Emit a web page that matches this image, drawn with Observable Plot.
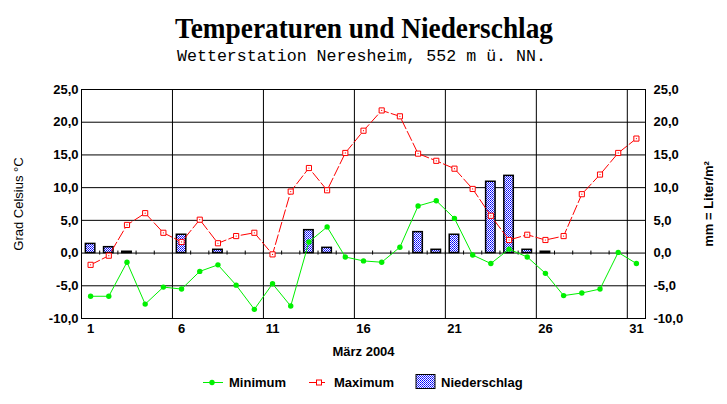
<!DOCTYPE html>
<html>
<head>
<meta charset="utf-8">
<script src="https://cdn.jsdelivr.net/npm/d3@7"></script>
<script src="https://cdn.jsdelivr.net/npm/@observablehq/plot@0.6"></script>
<style>
  html, body { margin: 0; padding: 0; background: white; }
  #wrap { position: relative; width: 727px; height: 404px; background: white; overflow: hidden; }
  #title, #legend { position: absolute; left: 0; }
  #title { top: 0; }
  #chart { position: absolute; left: 0; top: 72px; }
  #legend { top: 370px; }
</style>
</head>
<body>
<div id="wrap">
  <svg id="title" width="727" height="72"></svg>
  <div id="chart"></div>
  <svg id="legend" width="727" height="34">
    <defs>
      <pattern id="dots" patternUnits="userSpaceOnUse" x="0" y="0" width="2" height="2">
        <rect x="0" y="0" width="2" height="2" fill="white" shape-rendering="crispEdges"/>
        <rect x="0" y="0" width="1" height="1" fill="#0000ff" shape-rendering="crispEdges"/>
        <rect x="1" y="1" width="1" height="1" fill="#3030ff" shape-rendering="crispEdges"/>
      </pattern>
    </defs>
  </svg>
</div>
<script>
// ---- data ----
const titleText = "Temperaturen und Niederschlag";
const subtitleText = "Wetterstation Neresheim, 552 m ü. NN.";
const xLabel = "März 2004";
const yLabelLeft = "Grad Celsius °C";
const yLabelRight = "mm = Liter/m²";
const seriesNames = ["Minimum", "Maximum", "Niederschlag"];

const days = [1,2,3,4,5,6,7,8,9,10,11,12,13,14,15,16,17,18,19,20,21,22,23,24,25,26,27,28,29,30,31];
const minTemp = [-6.6,-6.6,-1.4,-7.8,-5.2,-5.5,-2.8,-1.8,-4.9,-8.6,-4.7,-8.1,1.7,4.0,-0.6,-1.2,-1.4,0.9,7.2,8.0,5.3,-0.3,-1.6,0.6,-0.6,-3.1,-6.5,-6.1,-5.5,0.1,-1.6];
const maxTemp = [-1.8,-0.4,4.3,6.1,3.1,1.7,5.1,1.5,2.6,3.1,-0.2,9.4,13.0,9.6,15.3,18.7,21.8,20.9,15.2,14.1,12.9,9.8,5.7,2.0,2.8,2.0,2.6,9.0,12.0,15.3,17.5];
const precip = [1.4,0.9,0.2,0,0,2.8,0,0.5,0,0,0,0,3.5,0.8,0,0,0,0,3.2,0.5,2.8,0,10.9,11.8,0.5,0.2,0,0,0,0,0];
const xTicks = [1,6,11,16,21,26,31];
const yTicks = [-10,-5,0,5,10,15,20,25];
const gridY = [-5,0,5,10,15,20];

// ---- table ----
const rows = days.map((d, i) => ({day: d, min: minTemp[i], max: maxTemp[i], rain: precip[i]}));
const rainRows = rows.filter(r => r.rain > 0);
const gridX = xTicks.slice(1).map(t => t - 0.5);
const minorX = days.slice(0, -1).map(d => d + 0.5);
const fmt = d => d.toFixed(1).replace(".", ",");

const GREEN = "#00f000";
const RED = "#ff0000";
const FONT = "'Liberation Sans', Arial, sans-serif";

// ---- title ----
const ns = "http://www.w3.org/2000/svg";
const tsvg = document.getElementById("title");
function addText(svg, txt, attrs) {
  const t = document.createElementNS(ns, "text");
  for (const k in attrs) t.setAttribute(k, attrs[k]);
  t.textContent = txt;
  svg.appendChild(t);
  return t;
}
addText(tsvg, titleText, {x: 364, y: 38, "text-anchor": "middle", "font-family": "'Liberation Serif', 'Times New Roman', serif",
  "font-weight": "bold", "font-size": 30, textLength: 378, lengthAdjust: "spacingAndGlyphs"});
addText(tsvg, subtitleText, {x: 361.5, y: 61, "text-anchor": "middle", "font-family": "'Liberation Mono', 'Courier New', monospace",
  "font-size": 16.5, textLength: 369, lengthAdjust: "spacingAndGlyphs"});

// ---- chart ----
const chart = Plot.plot({
  width: 727,
  height: 298,
  marginTop: 17,
  marginBottom: 52,
  marginLeft: 81,
  marginRight: 82,
  style: {fontFamily: FONT, background: "white", overflow: "visible"},
  x: {domain: [0.5, 31.5]},
  y: {domain: [-10, 25]},
  marks: [
    Plot.ruleY(gridY, {stroke: "black", strokeWidth: 1, strokeOpacity: 1}),
    Plot.ruleX(gridX, {stroke: "black", strokeWidth: 1, strokeOpacity: 1}),
    Plot.frame({stroke: "black", strokeWidth: 1}),
    Plot.ruleX(minorX, {x: d => d, y1: 0, y2: 0, insetTop: -2, insetBottom: -2, stroke: "black"}),
    Plot.rectY(rainRows, {x1: d => d.day - 0.26, x2: d => d.day + 0.26, y1: 0, y2: "rain",
      fill: "url(#dots)", stroke: "black", strokeWidth: 1.5}),
    Plot.line(rows, {x: "day", y: "max", stroke: RED, strokeWidth: 1, strokeDasharray: "10,3"}),
    Plot.dot(rows, {x: "day", y: "max", symbol: "square", r: 2.9, stroke: RED, fill: "white", strokeWidth: 1}),
    Plot.dot(rows, {x: "day", y: "max", r: 0.6, fill: RED}),
    Plot.line(rows, {x: "day", y: "min", stroke: GREEN, strokeWidth: 1}),
    Plot.dot(rows, {x: "day", y: "min", r: 2.7, fill: GREEN, stroke: "none"}),
    Plot.axisX({ticks: xTicks, tickSize: 0, tickPadding: 5, tickFormat: d => String(d), fontSize: 13, fontWeight: "bold", fill: "black", label: null}),
    Plot.axisY({anchor: "left", ticks: yTicks, tickSize: 0, tickPadding: 3, tickFormat: fmt, fontSize: 13, fontWeight: "bold", fill: "black", label: null}),
    Plot.axisY({anchor: "right", ticks: yTicks, tickSize: 0, tickPadding: 8, tickFormat: fmt, fontSize: 13, fontWeight: "bold", fill: "black", label: null}),
    Plot.text([xLabel], {frameAnchor: "bottom", dy: 37, text: d => d, fontSize: 13, fontWeight: "bold", fill: "black"}),
    Plot.text([yLabelLeft], {frameAnchor: "left", dx: -63, rotate: -90, textAnchor: "middle", text: d => d, fontSize: 13, fill: "black"}),
    Plot.text([yLabelRight], {frameAnchor: "right", dx: 63, rotate: -90, textAnchor: "middle", text: d => d, fontSize: 13, fontWeight: "bold", fill: "black"})
  ]
});
document.getElementById("chart").appendChild(chart);

// ---- legend ----
const lsvg = document.getElementById("legend");
function el(name, attrs) {
  const e = document.createElementNS(ns, name);
  for (const k in attrs) e.setAttribute(k, attrs[k]);
  lsvg.appendChild(e);
  return e;
}
const cy = 12;
el("line", {x1: 203, x2: 223, y1: cy + 0.5, y2: cy + 0.5, stroke: GREEN, "stroke-width": 1});
el("circle", {cx: 212, cy: cy + 0.5, r: 2.7, fill: GREEN});
addText(lsvg, seriesNames[0], {x: 229, y: cy, "dominant-baseline": "central", "font-family": FONT, "font-weight": "bold", "font-size": 13});
el("line", {x1: 309, x2: 325, y1: cy + 0.5, y2: cy + 0.5, stroke: RED, "stroke-width": 1});
el("rect", {x: 316.5, y: cy - 2, width: 5, height: 5, fill: "white", stroke: RED, "stroke-width": 1});
addText(lsvg, seriesNames[1], {x: 334, y: cy, "dominant-baseline": "central", "font-family": FONT, "font-weight": "bold", "font-size": 13});
el("rect", {x: 416, y: 4.5, width: 19, height: 14, fill: "url(#dots)", stroke: "black", "stroke-width": 1});
addText(lsvg, seriesNames[2], {x: 441, y: cy, "dominant-baseline": "central", "font-family": FONT, "font-weight": "bold", "font-size": 13});
</script>
</body>
</html>
